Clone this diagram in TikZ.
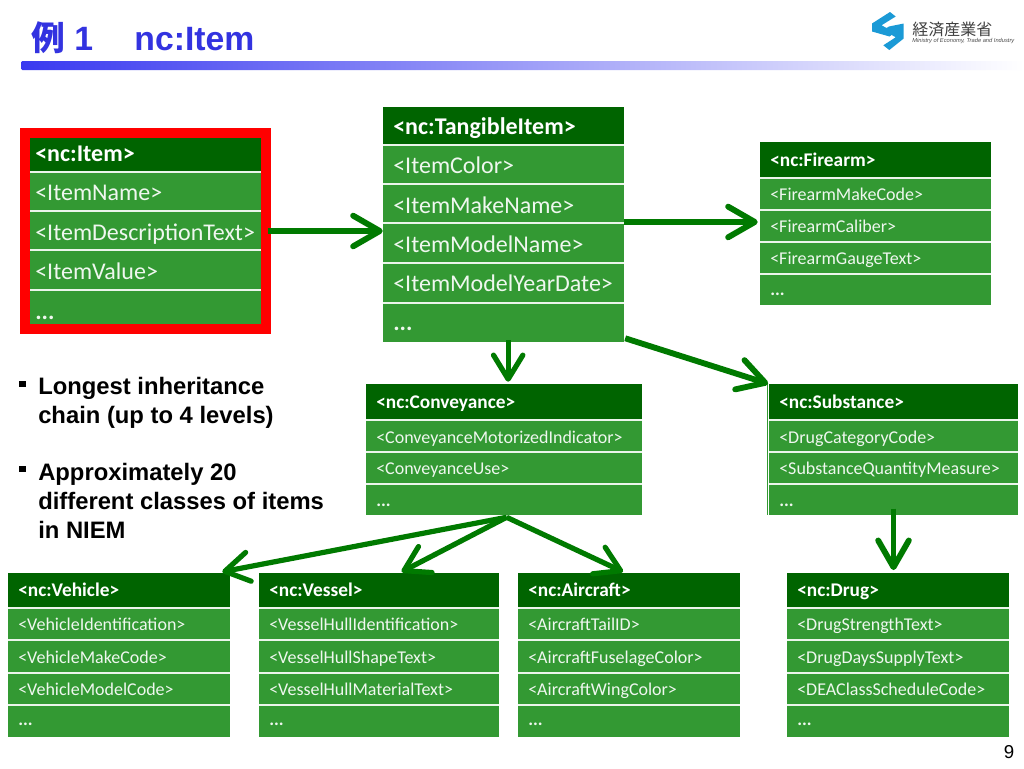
\documentclass[tikz,border=0pt]{standalone}
\usepackage{fontspec}
\setmainfont{Liberation Sans}
\newfontfamily\cjkfont{Noto Sans CJK JP}
\newfontfamily\cellfont{Carlito}
\usetikzlibrary{arrows.meta,fit,calc}
\definecolor{rowgreen}{HTML}{339933}
\definecolor{headgreen}{HTML}{006400}
\definecolor{arrowgreen}{HTML}{007A00}
\definecolor{titleblue}{HTML}{3333E0}
\definecolor{barblue}{HTML}{3A3AF0}
\definecolor{logoblue}{HTML}{1B9AD6}
\tikzset{
  tablebody/.style={fill=rowgreen,inner sep=0pt,draw=none},
  headcell/.style={fill=headgreen,draw=none},
  sepline/.style={draw=white!90!rowgreen,line width=0.95pt},
  celltext/.style={anchor=mid west,inner sep=0pt,text=white!92!rowgreen},
  headtext/.style={anchor=mid west,inner sep=0pt,text=white},
  flow/.style={draw=arrowgreen,line width=4.4pt,-{Straight Barb[length=20pt,width=23pt,round]}},
  flowthin/.style={draw=arrowgreen,line width=3.9pt,-{Straight Barb[length=18pt,width=22pt,round]}},
  bodytext/.style={anchor=north west,inner sep=0pt,align=left,font=\fontsize{17.85pt}{21.6pt}\selectfont\bfseries},
  bulletmark/.style={fill=black,inner sep=0pt,minimum size=4.6pt,draw=none},
}
\def\tinset{10}
\def\tdots{\textbf{...}}
% name, x0, x1, y0, y1, row size, head size, {headbottom/centre/text}, {line/centre/text,...}
\newcommand\tablebox[9]{%
  \node[tablebody,fit={(#2,#4)(#3,#5)}] (#1) {};
  \foreach \hb/\hc/\htxt in {#8}{%
    \fill[headcell] (#2,#4) rectangle (#3,\hb);
    \node[headtext,yshift={-#6pt/6},font=\cellfont\bfseries\fontsize{#7pt}{#7pt}\selectfont] (#1-head) at (#2+\tinset,\hc) {\htxt};
  }
  \foreach \ly/\cy/\tx [count=\ii] in {#9}{%
    \draw[sepline] (#2,\ly) -- (#3,\ly);
    \node[celltext,yshift={-#6pt/6},font=\cellfont\fontsize{#6pt}{#6pt}\selectfont] (#1-\ii) at (#2+\tinset,\cy) {\tx};
  }
}
\begin{document}
\begin{tikzpicture}[x=0.75pt,y=-0.75pt]
\useasboundingbox (0,0) rectangle (1024,768);
\fill[white] (0,0) rectangle (1024,768);

% title
\node[anchor=base west,inner sep=0pt,text=titleblue,font=\fontsize{25.3pt}{25pt}\selectfont\bfseries] (title) at (31,50)
  {{\cjkfont\bfseries 例}\hspace{7pt}1\hspace{31pt}nc:Item};
\shade[left color=barblue,right color=white,rounded corners=1pt] (21,61) rectangle (1024,70);

% logo
\fill[logoblue] (872,23.5) -- (890,12) -- (895.7,16.5) -- (881.5,25.3) -- (895,32.5) -- (889.5,36.5) -- (872,31.5) -- cycle;
\fill[logoblue] (903.7,23.5) -- (903.7,38.5) -- (889.3,50) -- (883.3,45.3) -- (895.7,37.3) -- (883.3,30) -- (889,26.5) -- cycle;
\node[anchor=west,inner sep=0pt,text=black!75,font=\cjkfont\fontsize{12pt}{12pt}\selectfont] (logotext) at (912,29) {経済産業省};
\node[anchor=west,inner sep=0pt,text=black!70,font=\fontsize{4.3pt}{5pt}\selectfont\itshape] (logosub) at (912,41) {Ministry of Economy, Trade and Industry};

% red frame
\node[draw=red,line width=7.5pt,inner sep=0pt,fit={(25,133)(266,329)}] (frame) {};

% tables
{\def\tinset{5}
\tablebox{item}{30}{261}{138}{324}{18}{18}{172/154/<nc:Item>}{172/193/<ItemName>,211/233/<ItemDescriptionText>,250/272/<ItemValue>,290/312/\tdots}
}
\tablebox{tangible}{383}{624}{107}{342}{18}{18}{145/127/<nc:TangibleItem>}{145/166/<ItemColor>,184/206/<ItemMakeName>,223/245/<ItemModelName>,263/284/<ItemModelYearDate>,303/323/\tdots}
\tablebox{firearm}{760}{991}{142}{305}{13.5}{14.5}{178/160/<nc:Firearm>}{178/194/<FirearmMakeCode>,210/226/<FirearmCaliber>,242/258/<FirearmGaugeText>,274/289/\tdots}
\tablebox{conveyance}{366}{642}{384}{515}{13.5}{14.5}{420/402/<nc:Conveyance>}{420/437/<ConveyanceMotorizedIndicator>,452/468/<ConveyanceUse>,484/500/\tdots}
\tablebox{substance}{769}{1018}{384}{515}{13.5}{14.5}{420/402/<nc:Substance>}{420/437/<DrugCategoryCode>,452/468/<SubstanceQuantityMeasure>,484/500/\tdots}
\tablebox{vehicle}{8}{230}{573}{737}{13.5}{14.5}{608/590/<nc:Vehicle>}{608/624/<VehicleIdentification>,640/657/<VehicleMakeCode>,673/689/<VehicleModelCode>,705/719/\tdots}
\tablebox{vessel}{259}{499}{573}{737}{13.5}{14.5}{608/590/<nc:Vessel>}{608/624/<VesselHullIdentification>,640/657/<VesselHullShapeText>,673/689/<VesselHullMaterialText>,705/719/\tdots}
\tablebox{aircraft}{518}{740}{573}{737}{13.5}{14.5}{608/590/<nc:Aircraft>}{608/624/<AircraftTailID>,640/657/<AircraftFuselageColor>,673/689/<AircraftWingColor>,705/719/\tdots}
\tablebox{drug}{787}{1009}{573}{737}{13.5}{14.5}{608/590/<nc:Drug>}{608/624/<DrugStrengthText>,640/657/<DrugDaysSupplyText>,673/689/<DEAClassScheduleCode>,705/719/\tdots}
\draw[rowgreen,line width=0.6pt] (767.4,384) -- (767.4,515);

% connectors
\draw[flow] ([xshift=-2.5pt]frame.east) -- (frame.east -| tangible.west);
\draw[flow] ([yshift=1.9pt]tangible.east) -- ([yshift=1.9pt,xshift=-1.5pt]tangible.east -| firearm.west);
\draw[flowthin] ([xshift=3.5pt,yshift=1.5pt]tangible.south) -- ([xshift=3.5pt,yshift=1.5pt]tangible.south |- conveyance.north);
\draw[flow] ([xshift=0.7pt,yshift=3pt]tangible.south east) -- ([xshift=-0.5pt]substance.north west);
\coordinate (fan) at ([xshift=2pt,yshift=-1.5pt]conveyance.south);
\draw[flowthin] (fan) -- ([xshift=-6pt,yshift=0.7pt]vehicle.north east);
\draw[flowthin] (fan) -- ([xshift=17pt,yshift=0.7pt]vessel.north);
\draw[flowthin] (fan) -- ([yshift=0.7pt]aircraft.north -| 623,0);
\draw[flow] ([yshift=5pt]substance.south) -- ([yshift=2pt]substance.south |- drug.north);

% bullets
\node[bulletmark] (b1) at (22.5,384) {};
\node[bodytext] (t1) at (38,377) {Longest inheritance\\chain (up to 4 levels)};
\node[bulletmark] (b2) at (22.5,469) {};
\node[bodytext] (t2) at (38,463) {Approximately 20\\different classes of items\\in NIEM};

% page number
\node[inner sep=0pt,font=\fontsize{14pt}{14pt}\selectfont] (page) at (1009,752) {9};
\end{tikzpicture}
\end{document}
